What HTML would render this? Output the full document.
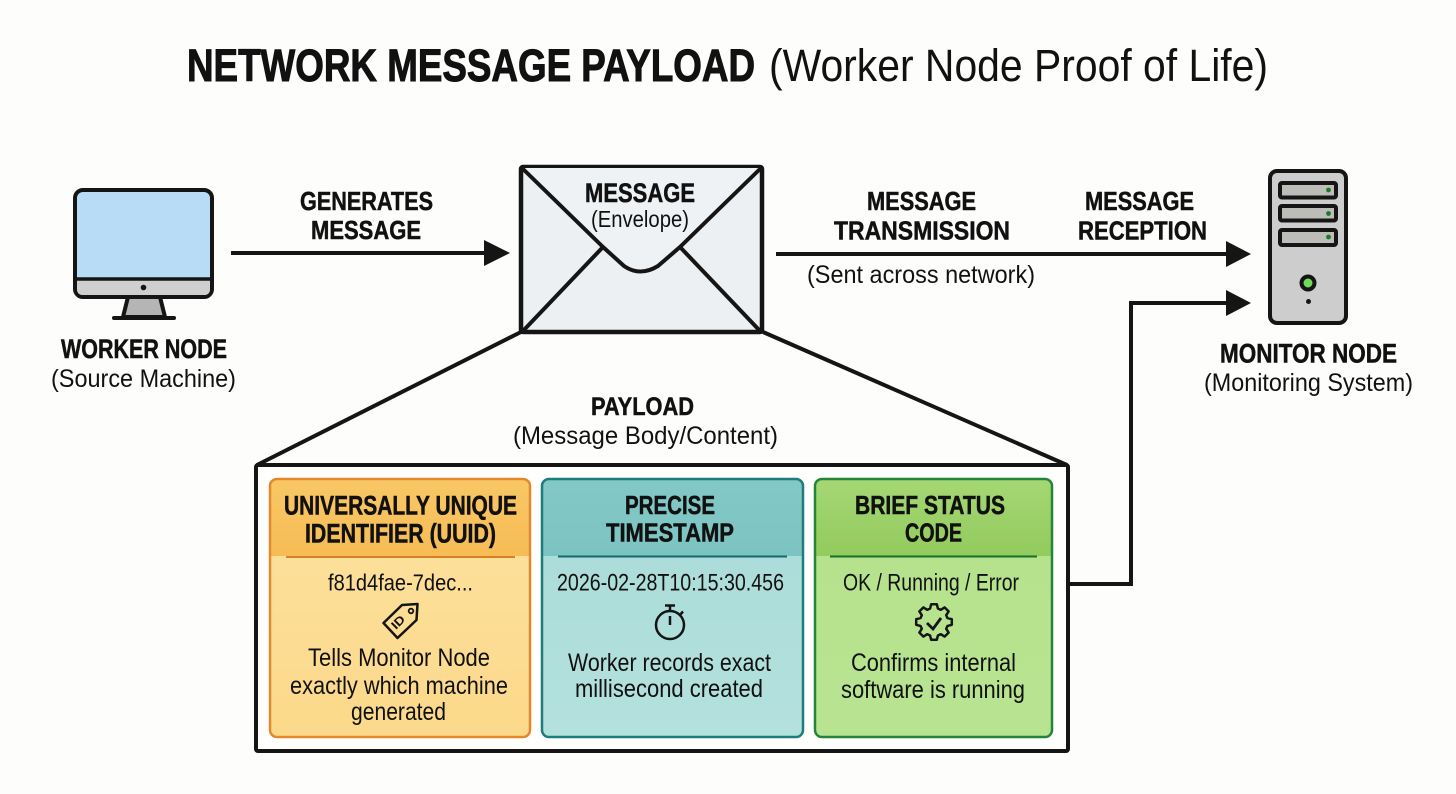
<!DOCTYPE html>
<html lang="en">
<head>
<meta charset="utf-8">
<title>Network Message Payload</title>
<style>
html,body{margin:0;padding:0;background:#fdfdfb;}
svg{display:block;}
text{font-family:"Liberation Sans",sans-serif;fill:#111;}
.b{font-weight:700;stroke:#111;stroke-width:.5px;}
.t{font-weight:700;stroke:#111;stroke-width:1px;}
</style>
</head>
<body>
<svg width="1456" height="794" viewBox="0 0 1456 794" xmlns="http://www.w3.org/2000/svg">
<defs>
<linearGradient id="oh" x1="0" y1="0" x2="0" y2="1"><stop offset="0" stop-color="#f9c766"/><stop offset="1" stop-color="#f6bc55"/></linearGradient>
<linearGradient id="ob" x1="0" y1="0" x2="0" y2="1"><stop offset="0" stop-color="#fde29f"/><stop offset="1" stop-color="#fbd98b"/></linearGradient>
<linearGradient id="th" x1="0" y1="0" x2="0" y2="1"><stop offset="0" stop-color="#82c8c6"/><stop offset="1" stop-color="#7cc4c2"/></linearGradient>
<linearGradient id="tb" x1="0" y1="0" x2="0" y2="1"><stop offset="0" stop-color="#a8dbd8"/><stop offset="1" stop-color="#b4e1dd"/></linearGradient>
<linearGradient id="gh" x1="0" y1="0" x2="0" y2="1"><stop offset="0" stop-color="#a6d774"/><stop offset="1" stop-color="#92cb5e"/></linearGradient>
<linearGradient id="gb" x1="0" y1="0" x2="0" y2="1"><stop offset="0" stop-color="#b6e28b"/><stop offset="1" stop-color="#b8e391"/></linearGradient>
</defs>
<rect width="1456" height="794" fill="#fdfdfb"/>

<!-- Title -->
<text class="t" x="187" y="81" font-size="45" textLength="568" lengthAdjust="spacingAndGlyphs">NETWORK MESSAGE PAYLOAD</text>
<text x="769" y="81" font-size="45" textLength="499" lengthAdjust="spacingAndGlyphs">(Worker Node Proof of Life)</text>

<!-- Worker monitor -->
<path d="M128 297 L123 317 H165 L160 297 Z" fill="#b5b5b5" stroke="#151515" stroke-width="4" stroke-linejoin="round"/>
<line x1="114" y1="318" x2="174" y2="318" stroke="#151515" stroke-width="4" stroke-linecap="round"/>
<rect x="75" y="190" width="137" height="107" rx="8" fill="#b9dcf6" stroke="#151515" stroke-width="4"/>
<path d="M77 280 H210 V289 Q210 295 204 295 H83 Q77 295 77 289 Z" fill="#cfcfcf"/>
<line x1="76" y1="279" x2="211" y2="279" stroke="#151515" stroke-width="3.5"/>
<circle cx="143.500" cy="287.500" r="2.800" fill="#151515"/>
<text class="b" x="61" y="358" font-size="27" textLength="166" lengthAdjust="spacingAndGlyphs">WORKER NODE</text>
<text x="51" y="387" font-size="25" textLength="185" lengthAdjust="spacingAndGlyphs">(Source Machine)</text>

<!-- Arrow 1 -->
<line x1="231" y1="253" x2="490" y2="253" stroke="#151515" stroke-width="4"/>
<path d="M484 240 L510 253 L484 266 Z" fill="#151515"/>
<text class="b" x="300" y="210" font-size="26" textLength="133" lengthAdjust="spacingAndGlyphs">GENERATES</text>
<text class="b" x="311" y="239" font-size="26" textLength="110" lengthAdjust="spacingAndGlyphs">MESSAGE</text>

<!-- Funnel -->
<line x1="521" y1="332" x2="257" y2="465" stroke="#151515" stroke-width="4"/>
<line x1="763" y1="332" x2="1067" y2="465" stroke="#151515" stroke-width="4"/>

<!-- Envelope -->
<rect x="521" y="167" width="241" height="165" rx="2" fill="#edf0f2" stroke="#151515" stroke-width="4.500"/>
<path d="M522 168 L603 247 L624 266 Q640 277 658 266 L680 247 L761 168" fill="#eff2f4" stroke="#151515" stroke-width="4" stroke-linejoin="round"/>
<line x1="522" y1="332" x2="603" y2="247" stroke="#151515" stroke-width="4"/>
<line x1="680" y1="247" x2="761" y2="332" stroke="#151515" stroke-width="4"/>
<text class="b" x="585" y="202" font-size="27" textLength="110" lengthAdjust="spacingAndGlyphs">MESSAGE</text>
<text x="591" y="227" font-size="23.500" textLength="98" lengthAdjust="spacingAndGlyphs">(Envelope)</text>

<!-- Arrow 2 -->
<line x1="776" y1="254" x2="1232" y2="254" stroke="#151515" stroke-width="4"/>
<path d="M1226 241 L1251 254 L1226 267 Z" fill="#151515"/>
<text class="b" x="867" y="210" font-size="26" textLength="109" lengthAdjust="spacingAndGlyphs">MESSAGE</text>
<text class="b" x="834" y="239.500" font-size="26" textLength="176" lengthAdjust="spacingAndGlyphs">TRANSMISSION</text>
<text class="b" x="1085" y="210" font-size="26" textLength="109" lengthAdjust="spacingAndGlyphs">MESSAGE</text>
<text class="b" x="1078" y="239.500" font-size="26" textLength="129" lengthAdjust="spacingAndGlyphs">RECEPTION</text>
<text x="807" y="283" font-size="25" textLength="228" lengthAdjust="spacingAndGlyphs">(Sent across network)</text>

<!-- Arrow 3 -->
<path d="M1068 584 H1131 V303 H1232" fill="none" stroke="#151515" stroke-width="4"/>
<path d="M1226 290 L1251 303 L1226 316 Z" fill="#151515"/>

<!-- Server -->
<rect x="1270" y="171" width="76" height="152" rx="7" fill="#cdcdcd" stroke="#151515" stroke-width="4"/>
<rect x="1280" y="183" width="56" height="14.500" rx="2" fill="#bcbcb8" stroke="#151515" stroke-width="4"/>
<rect x="1280" y="206" width="56" height="14.500" rx="2" fill="#bcbcb8" stroke="#151515" stroke-width="4"/>
<rect x="1280" y="230" width="56" height="15" rx="2" fill="#bcbcb8" stroke="#151515" stroke-width="4"/>
<circle cx="1328.500" cy="190" r="2.400" fill="#1a7a2a"/>
<circle cx="1328.500" cy="213.500" r="2.400" fill="#1a7a2a"/>
<circle cx="1328.500" cy="237" r="2.400" fill="#1a7a2a"/>
<circle cx="1308" cy="283" r="6.500" fill="#6fdc55" stroke="#151515" stroke-width="4"/>
<circle cx="1308.500" cy="301.500" r="2.500" fill="#151515"/>
<text class="b" x="1220" y="362.500" font-size="27" textLength="177" lengthAdjust="spacingAndGlyphs">MONITOR NODE</text>
<text x="1204" y="391" font-size="25" textLength="209" lengthAdjust="spacingAndGlyphs">(Monitoring System)</text>

<!-- Payload -->
<text class="b" x="591" y="415" font-size="25" textLength="103" lengthAdjust="spacingAndGlyphs">PAYLOAD</text>
<text x="513" y="444" font-size="25" textLength="265" lengthAdjust="spacingAndGlyphs">(Message Body/Content)</text>
<rect x="256" y="465" width="812" height="286" rx="2" fill="#fefefd" stroke="#151515" stroke-width="4"/>

<!-- Orange card -->
<rect x="270" y="479" width="260" height="258" rx="7" fill="url(#ob)"/>
<path d="M270 556 V486 Q270 479 277 479 H523 Q530 479 530 486 V556 Z" fill="url(#oh)"/>
<rect x="270" y="479" width="260" height="258" rx="7" fill="none" stroke="#e2892c" stroke-width="2.500"/>
<line x1="286" y1="557" x2="515" y2="557" stroke="#d97f26" stroke-width="2"/>
<text class="b" x="284" y="514.500" font-size="26.500" textLength="233" lengthAdjust="spacingAndGlyphs">UNIVERSALLY UNIQUE</text>
<text class="b" x="305" y="542.500" font-size="26.500" textLength="191" lengthAdjust="spacingAndGlyphs">IDENTIFIER (UUID)</text>
<text x="328" y="590.500" font-size="23" textLength="145" lengthAdjust="spacingAndGlyphs">f81d4fae-7dec...</text>
<path d="M383.500 623 L402 605 L417.500 604 L416.500 620 L397.500 638 Z" fill="none" stroke="#151515" stroke-width="2.500" stroke-linejoin="round"/>
<circle cx="411" cy="611" r="2.300" fill="none" stroke="#151515" stroke-width="1.800"/>
<text x="0" y="0" font-size="12" font-weight="700" transform="translate(396 630) rotate(-45)" textLength="14" lengthAdjust="spacingAndGlyphs">ID</text>
<text x="308" y="666" font-size="25" textLength="182" lengthAdjust="spacingAndGlyphs">Tells Monitor Node</text>
<text x="290" y="694" font-size="25" textLength="218" lengthAdjust="spacingAndGlyphs">exactly which machine</text>
<text x="351" y="720" font-size="25" textLength="95" lengthAdjust="spacingAndGlyphs">generated</text>

<!-- Teal card -->
<rect x="542" y="479" width="261" height="258" rx="7" fill="url(#tb)"/>
<path d="M542 556 V486 Q542 479 549 479 H796 Q803 479 803 486 V556 Z" fill="url(#th)"/>
<rect x="542" y="479" width="261" height="258" rx="7" fill="none" stroke="#1d7c7e" stroke-width="2.500"/>
<line x1="558" y1="556.500" x2="787" y2="556.500" stroke="#14696b" stroke-width="2"/>
<text class="b" x="625" y="514" font-size="26" textLength="90" lengthAdjust="spacingAndGlyphs">PRECISE</text>
<text class="b" x="606" y="541.500" font-size="26" textLength="128" lengthAdjust="spacingAndGlyphs">TIMESTAMP</text>
<text x="557" y="590.500" font-size="24" textLength="227" lengthAdjust="spacingAndGlyphs">2026-02-28T10:15:30.456</text>
<circle cx="670" cy="625" r="14" fill="none" stroke="#151515" stroke-width="2.500"/>
<line x1="665" y1="605.500" x2="675" y2="605.500" stroke="#151515" stroke-width="2.500"/>
<line x1="670" y1="605" x2="670" y2="611" stroke="#151515" stroke-width="2.500"/>
<line x1="670" y1="616" x2="670" y2="625" stroke="#151515" stroke-width="2.500"/>
<line x1="680" y1="615" x2="683" y2="611.500" stroke="#151515" stroke-width="2.500"/>
<text x="568" y="671" font-size="25" textLength="203" lengthAdjust="spacingAndGlyphs">Worker records exact</text>
<text x="575" y="697" font-size="25" textLength="188" lengthAdjust="spacingAndGlyphs">millisecond created</text>

<!-- Green card -->
<rect x="815" y="479" width="237" height="258" rx="7" fill="url(#gb)"/>
<path d="M815 556 V486 Q815 479 822 479 H1045 Q1052 479 1052 486 V556 Z" fill="url(#gh)"/>
<rect x="815" y="479" width="237" height="258" rx="7" fill="none" stroke="#23853a" stroke-width="2.500"/>
<line x1="830" y1="556.500" x2="1037" y2="556.500" stroke="#176f2c" stroke-width="2"/>
<text class="b" x="855" y="514" font-size="26" textLength="150" lengthAdjust="spacingAndGlyphs">BRIEF STATUS</text>
<text class="b" x="905" y="541.500" font-size="26" textLength="57" lengthAdjust="spacingAndGlyphs">CODE</text>
<text x="843" y="590.500" font-size="24" textLength="176" lengthAdjust="spacingAndGlyphs">OK / Running / Error</text>
<path transform="translate(934 622)" d="M17.800 2.800 L13.500 3.900 L12.200 6.800 L14.600 10.600 L10.600 14.600 L6.800 12.200 L3.900 13.500 L2.800 17.800 L-2.800 17.800 L-3.900 13.500 L-6.800 12.200 L-10.600 14.600 L-14.600 10.600 L-12.200 6.800 L-13.500 3.900 L-17.800 2.800 L-17.800 -2.800 L-13.500 -3.900 L-12.200 -6.800 L-14.600 -10.600 L-10.600 -14.600 L-6.800 -12.200 L-3.900 -13.500 L-2.800 -17.800 L2.800 -17.800 L3.900 -13.500 L6.800 -12.200 L10.600 -14.600 L14.600 -10.600 L12.200 -6.800 L13.500 -3.900 L17.800 -2.800 Z" fill="none" stroke="#151515" stroke-width="2.500" stroke-linejoin="round"/>
<path d="M927 623 L933 629 L941 618" fill="none" stroke="#151515" stroke-width="2.800"/>
<text x="851" y="671" font-size="25" textLength="165" lengthAdjust="spacingAndGlyphs">Confirms internal</text>
<text x="841" y="698" font-size="25" textLength="184" lengthAdjust="spacingAndGlyphs">software is running</text>
</svg>
</body>
</html>
